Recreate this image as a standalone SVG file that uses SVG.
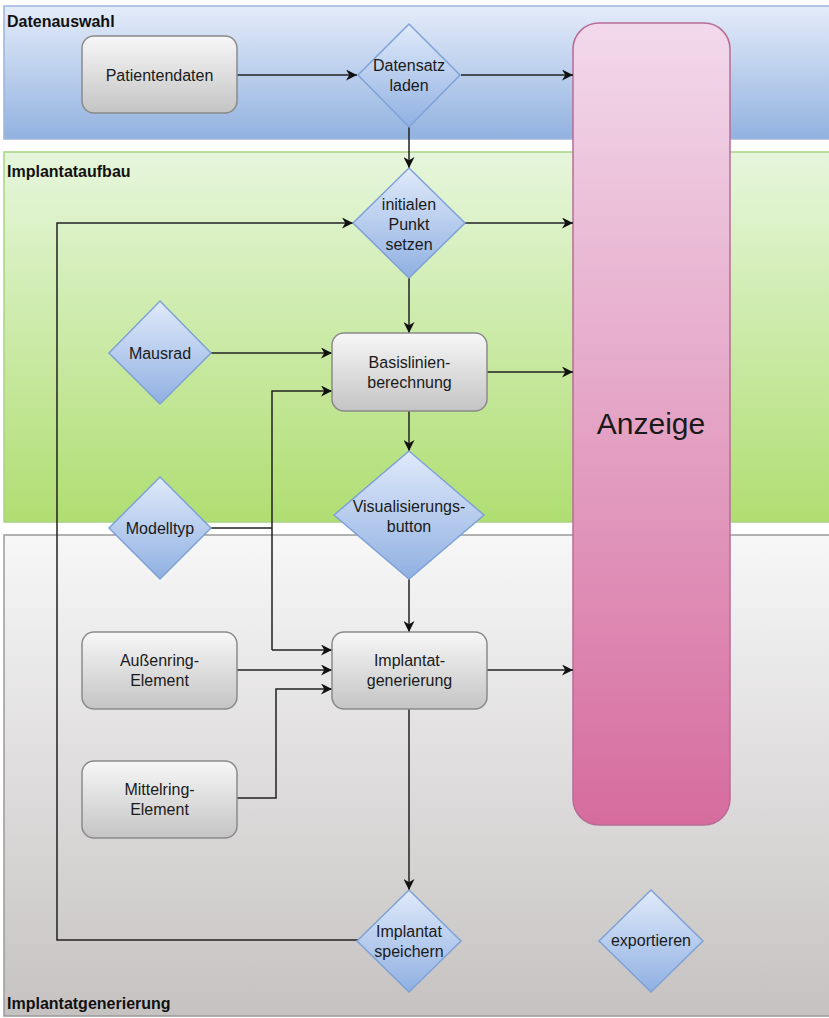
<svg xmlns="http://www.w3.org/2000/svg" width="829" height="1018" viewBox="0 0 829 1018">
<defs>
<linearGradient id="gBlue" x1="0" y1="0" x2="0" y2="1"><stop offset="0" stop-color="#e4ecf9"/><stop offset="1" stop-color="#92b2e0"/></linearGradient>
<linearGradient id="gGreen" x1="0" y1="0" x2="0" y2="1"><stop offset="0" stop-color="#e6f6dc"/><stop offset="1" stop-color="#b0de72"/></linearGradient>
<linearGradient id="gGray" x1="0" y1="0" x2="0" y2="1"><stop offset="0" stop-color="#f7f7f7"/><stop offset="1" stop-color="#c6c2c2"/></linearGradient>
<linearGradient id="gPink" x1="0" y1="0" x2="0" y2="1"><stop offset="0" stop-color="#f2d9eb"/><stop offset="1" stop-color="#d66c9e"/></linearGradient>
<linearGradient id="gBox" x1="0" y1="0" x2="0" y2="1"><stop offset="0" stop-color="#f7f7f7"/><stop offset="1" stop-color="#c4c4c4"/></linearGradient>
<linearGradient id="gDia" x1="0" y1="0" x2="0" y2="1"><stop offset="0" stop-color="#e0eafa"/><stop offset="1" stop-color="#90b0e2"/></linearGradient>
<marker id="arr" viewBox="0 0 10 10" refX="10" refY="5" markerWidth="11" markerHeight="11" markerUnits="userSpaceOnUse" orient="auto"><path d="M0,0 L10,5 L0,10 L3,5 z" fill="#111"/></marker>
<style>
.box{fill:url(#gBox);stroke:#8a8a8a;stroke-width:1.5}
.dia{fill:url(#gDia);stroke:#7fa2d6;stroke-width:1.5}
.t{font-family:"Liberation Sans",Arial,sans-serif;font-size:16px;fill:#1a1a1a;text-anchor:middle}
.lane{font-family:"Liberation Sans",Arial,sans-serif;font-size:16px;font-weight:bold;fill:#111}
.c{fill:none;stroke:#222;stroke-width:1.5;marker-end:url(#arr)}
.cn{fill:none;stroke:#222;stroke-width:1.5}
</style>
</defs>
<rect width="829" height="1018" fill="#ffffff"/>
<g id="lane-datenauswahl">
<rect x="4" y="6" width="830" height="133" fill="url(#gBlue)" stroke="#9cb4dc" stroke-width="1.5"/>
<text class="lane" x="7" y="27">Datenauswahl</text>
</g>
<g id="lane-implantataufbau">
<rect x="4" y="152" width="830" height="370" fill="url(#gGreen)" stroke="#a9d282" stroke-width="1.5"/>
<text class="lane" x="7" y="177">Implantataufbau</text>
</g>
<g id="lane-implantatgenerierung">
<rect x="4" y="535" width="830" height="481" fill="url(#gGray)" stroke="#9a9a9a" stroke-width="1.5"/>
<text class="lane" x="7" y="1009">Implantatgenerierung</text>
</g>
<g id="anzeige">
<rect x="573" y="23" width="157" height="802" rx="26" fill="url(#gPink)" stroke="#b86c98" stroke-width="1.5"/>
<text x="651" y="434" font-family="'Liberation Sans',Arial,sans-serif" font-size="30" fill="#1a1a1a" text-anchor="middle">Anzeige</text>
</g>
<g id="connectors">
<path class="c" d="M237,75 H357"/>
<path class="c" d="M461,75 H573"/>
<path class="c" d="M409,127 V168"/>
<path class="c" d="M465,223 H573"/>
<path class="c" d="M358,940 H57 V223 H353"/>
<path class="c" d="M409,278 V333"/>
<path class="c" d="M211,353 H332"/>
<path class="cn" d="M211,528 H272"/>
<path class="c" d="M272,650 V391 H332"/>
<path class="c" d="M272,650 H332"/>
<path class="c" d="M487,372 H573"/>
<path class="c" d="M409,411 V451"/>
<path class="c" d="M409,579 V632"/>
<path class="c" d="M237,670 H332"/>
<path class="c" d="M237,798 H276 V689 H332"/>
<path class="c" d="M487,670 H573"/>
<path class="c" d="M409,709 V890"/>
</g>
<g id="patientendaten">
<rect class="box" x="82" y="36" width="155" height="77" rx="12"/>
<text class="t" x="159.5" y="81">Patientendaten</text>
</g>
<g id="datensatz-laden">
<polygon class="dia" points="409,24 460,75 409,127 358,75"/>
<text class="t" x="409" y="71">Datensatz</text>
<text class="t" x="409" y="91">laden</text>
</g>
<g id="initialen-punkt-setzen">
<polygon class="dia" points="409,168 465,223 409,278 353,223"/>
<text class="t" x="409" y="210">initialen</text>
<text class="t" x="409" y="230">Punkt</text>
<text class="t" x="409" y="250">setzen</text>
</g>
<g id="mausrad">
<polygon class="dia" points="160,301 211,353 160,404 109,353"/>
<text class="t" x="160" y="359">Mausrad</text>
</g>
<g id="basislinienberechnung">
<rect class="box" x="332" y="333" width="155" height="78" rx="12"/>
<text class="t" x="409.5" y="368">Basislinien-</text>
<text class="t" x="409.5" y="388">berechnung</text>
</g>
<g id="visualisierungsbutton">
<polygon class="dia" points="409,451 484,515 409,579 334,515"/>
<text class="t" x="409" y="512">Visualisierungs-</text>
<text class="t" x="409" y="532">button</text>
</g>
<g id="modelltyp">
<polygon class="dia" points="160,477 211,528 160,579 109,528"/>
<text class="t" x="160" y="534">Modelltyp</text>
</g>
<g id="aussenring-element">
<rect class="box" x="82" y="632" width="155" height="77" rx="12"/>
<text class="t" x="159.5" y="666">Außenring-</text>
<text class="t" x="159.5" y="686">Element</text>
</g>
<g id="mittelring-element">
<rect class="box" x="82" y="761" width="155" height="77" rx="12"/>
<text class="t" x="159.5" y="795">Mittelring-</text>
<text class="t" x="159.5" y="815">Element</text>
</g>
<g id="implantatgenerierung">
<rect class="box" x="332" y="632" width="155" height="77" rx="12"/>
<text class="t" x="409.5" y="666">Implantat-</text>
<text class="t" x="409.5" y="686">generierung</text>
</g>
<g id="implantat-speichern">
<polygon class="dia" points="409,890 461,941 409,992 357,941"/>
<text class="t" x="409" y="937">Implantat</text>
<text class="t" x="409" y="957">speichern</text>
</g>
<g id="exportieren">
<polygon class="dia" points="651,890 703,941 651,992 599,941"/>
<text class="t" x="651" y="946">exportieren</text>
</g>
</svg>
